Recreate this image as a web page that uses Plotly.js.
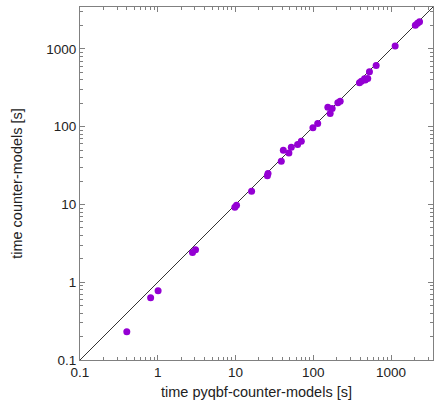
<!DOCTYPE html>
<html>
<head>
<meta charset="utf-8">
<script src="https://cdn.plot.ly/plotly-3.0.1.min.js"></script>
<style>html,body{margin:0;padding:0;background:#fff;}#chart{width:434px;height:403px;}</style>
</head>
<body>
<div id="chart"></div>
<script>
// measured times (seconds)
var pyqbfTimes = [0.40, 0.81, 1.01, 2.8, 3.06, 9.8, 10.3, 16.1, 25.7, 26.2, 38.8, 41.2, 48.6, 52.2, 62.9, 70.2, 99, 114, 154, 165, 175, 207, 222, 393, 416, 456, 466, 502, 528, 644, 1130, 2056, 2195, 2327];
var counterTimes = [0.23, 0.63, 0.78, 2.41, 2.62, 9.2, 9.8, 14.8, 23.5, 25, 35.9, 49.8, 46, 54.4, 59, 65, 97, 110, 178, 148, 172, 203, 213, 368, 386, 414, 400, 418, 509, 615, 1090, 2015, 2138, 2240];
var diagonal = [0.1, 3467];
var tickValues = [0.1, 1, 10, 100, 1000];
var tickLabels = ["0.1", "1", "10", "100", "1000"];

var traces = [
  {x: diagonal, y: diagonal, mode: 'lines', line: {color: '#000', width: 0.8}, hoverinfo: 'skip', showlegend: false},
  {x: pyqbfTimes, y: counterTimes, mode: 'markers', marker: {color: '#9400d3', size: 7, symbol: 'circle'}, showlegend: false}
];

function axis(titleText) {
  return {
    type: 'log',
    range: [-1, Math.log10(diagonal[1])],
    tickvals: tickValues,
    ticktext: tickLabels,
    ticks: 'inside',
    ticklen: 5,
    tickcolor: '#808080',
    tickwidth: 1,
    showline: true,
    linecolor: '#808080',
    linewidth: 1,
    mirror: 'ticks',
    showgrid: false,
    zeroline: false,
    minor: {ticks: 'inside', ticklen: 3, tickcolor: '#808080', dtick: 'D1', showgrid: false},
    tickfont: {family: 'Liberation Sans, Arial, sans-serif', size: 13.5, color: '#222'},
    title: {text: titleText, font: {family: 'Liberation Sans, Arial, sans-serif', size: 14.5, color: '#222'}}
  };
}

var layout = {
  width: 434, height: 403,
  margin: {l: 80, r: 1, t: 7, b: 43},
  paper_bgcolor: '#fff', plot_bgcolor: '#fff',
  xaxis: axis('time pyqbf-counter-models [s]'),
  yaxis: axis('time counter-models [s]'),
  showlegend: false
};
layout.xaxis.title.standoff = 7;
layout.yaxis.title.standoff = 20;

Plotly.newPlot('chart', traces, layout, {staticPlot: true, displayModeBar: false});
</script>
</body>
</html>
